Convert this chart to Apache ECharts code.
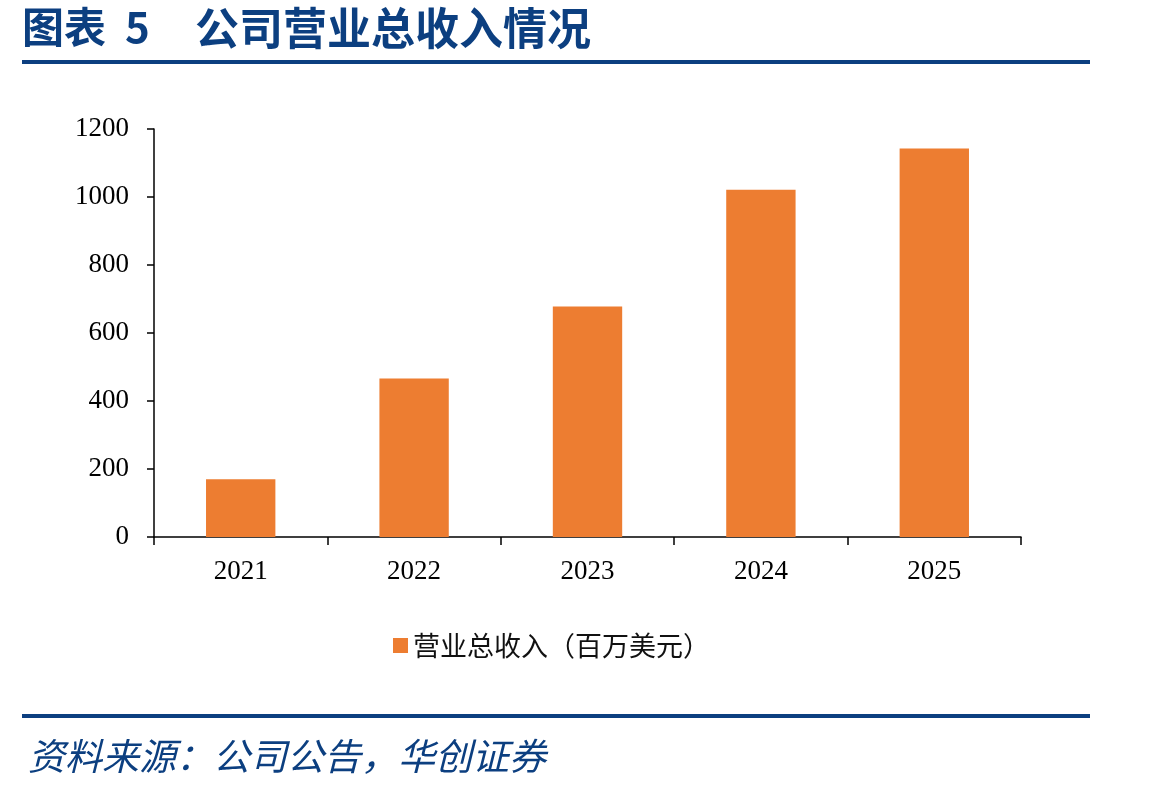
<!DOCTYPE html>
<html>
<head>
<meta charset="utf-8">
<script src="https://cdn.jsdelivr.net/npm/echarts@6/dist/echarts.min.js"></script>
<style>
  html, body { margin: 0; padding: 0; background: #fff; }
  #chart { width: 1149px; height: 792px; }
</style>
</head>
<body>
<div id="chart"></div>
<script>
// data
var years = ['2021', '2022', '2023', '2024', '2025'];
var revenue = [170, 466, 678, 1021, 1143];
var seriesName = '营业总收入（百万美元）';

var blue = '#0c3f80';
var chart = echarts.init(document.getElementById('chart'));

chart.setOption({
    animation: false,
    grid: { left: 154, right: 128, top: 129, bottom: 255 },
    legend: {
        data: [seriesName],
        left: 388,
        top: 627,
        itemWidth: 15,
        itemHeight: 15,
        itemGap: 6,
        icon: 'rect',
        textStyle: { fontFamily: 'Noto Sans CJK SC', fontSize: 27, color: '#111' }
    },
    xAxis: {
        type: 'category',
        data: years,
        axisLine: { lineStyle: { color: '#000', width: 1.5 } },
        axisTick: { show: true, alignWithLabel: false, length: 8, lineStyle: { color: '#000', width: 1.5 } },
        axisLabel: { fontFamily: 'Liberation Serif', fontSize: 27, color: '#000', margin: 21 }
    },
    yAxis: {
        type: 'value',
        min: 0,
        max: 1200,
        interval: 200,
        axisLine: { show: true, lineStyle: { color: '#000', width: 1.5 } },
        axisTick: { show: true, length: 7, lineStyle: { color: '#000', width: 1.5 } },
        splitLine: { show: false },
        axisLabel: {
            fontFamily: 'Liberation Serif', fontSize: 27, color: '#000', margin: 25,
            formatter: function (v) { return String(v); }
        }
    },
    series: [{
        name: seriesName,
        type: 'bar',
        data: revenue,
        barWidth: '40%',
        itemStyle: { color: '#ED7D31' }
    }],
    graphic: [
        {
            type: 'text', left: 22, top: 6,
            style: { text: '图表  5', fill: blue, font: 'bold 42px "Noto Sans CJK SC"' }
        },
        {
            type: 'text', left: 195, top: 6,
            style: { text: '公司营业总收入情况', fill: blue, font: 'bold 44px "Noto Sans CJK SC"' }
        },
        {
            type: 'rect', shape: { x: 22, y: 60, width: 1068, height: 4 },
            style: { fill: blue }
        },
        {
            type: 'rect', shape: { x: 22, y: 714, width: 1068, height: 4 },
            style: { fill: blue }
        },
        {
            type: 'text', left: 28, top: 737,
            style: { text: '资料来源：公司公告，华创证券', fill: blue,
                font: 'italic 37px "Noto Sans CJK SC"' }
        }
    ]
});
</script>
</body>
</html>
